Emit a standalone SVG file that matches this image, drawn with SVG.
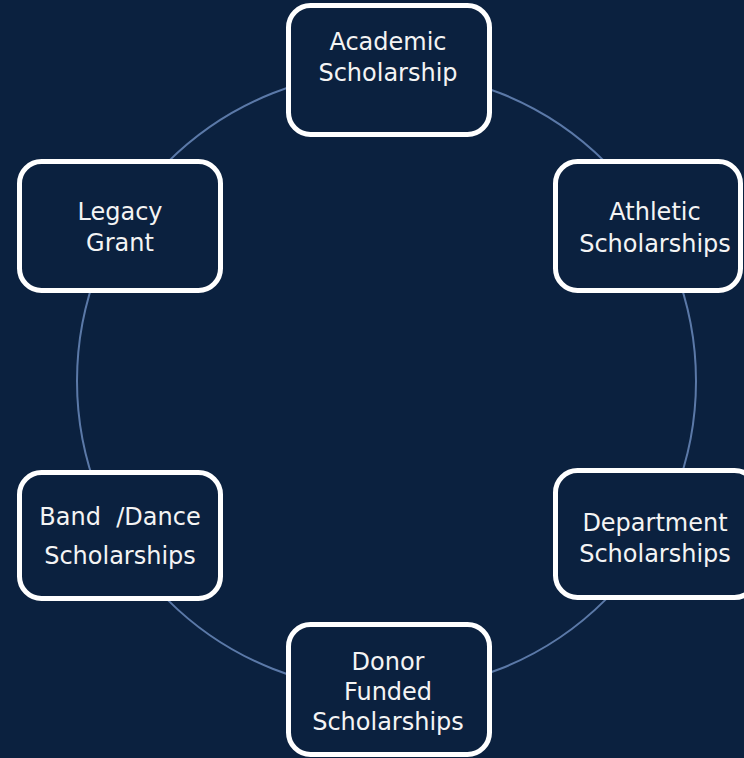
<svg xmlns="http://www.w3.org/2000/svg" width="744" height="758" viewBox="0 0 744 758">
<style>
.bg{fill:#0B213F}
.ring{fill:none;stroke:#5B79A8;stroke-width:2}
.box{fill:#0B213F;stroke:#FFFFFF;stroke-width:5}
.lbl{font-family:"DejaVu Sans",sans-serif;font-size:24px;fill:#F4F4F4;text-anchor:middle}
</style>
<rect class="bg" x="0" y="0" width="744" height="758"/>
<g id="connectors">
<circle class="ring" cx="386.5" cy="381" r="309.5"/>
</g>
<g id="academic">
<rect class="box" x="288.5" y="5.5" width="201" height="129" rx="22"/>
<text class="lbl" x="388" y="50">Academic</text>
<text class="lbl" x="388" y="81">Scholarship</text>
</g>
<g id="athletic">
<rect class="box" x="555.5" y="161.5" width="185" height="129" rx="22"/>
<text class="lbl" x="655" y="220">Athletic</text>
<text class="lbl" x="655" y="252">Scholarships</text>
</g>
<g id="department">
<rect class="box" x="555.5" y="470.5" width="201" height="127" rx="22"/>
<text class="lbl" x="655" y="531">Department</text>
<text class="lbl" x="655" y="562">Scholarships</text>
</g>
<g id="donor">
<rect class="box" x="288.5" y="624.5" width="201" height="130" rx="22"/>
<text class="lbl" x="388" y="670">Donor</text>
<text class="lbl" x="388" y="700">Funded</text>
<text class="lbl" x="388" y="730">Scholarships</text>
</g>
<g id="band">
<rect class="box" x="19.5" y="472.5" width="201" height="126" rx="22"/>
<text class="lbl" x="120" y="525" xml:space="preserve">Band  /Dance</text>
<text class="lbl" x="120" y="564">Scholarships</text>
</g>
<g id="legacy">
<rect class="box" x="19.5" y="161.5" width="201" height="129" rx="22"/>
<text class="lbl" x="120" y="220">Legacy</text>
<text class="lbl" x="120" y="251">Grant</text>
</g>
</svg>
